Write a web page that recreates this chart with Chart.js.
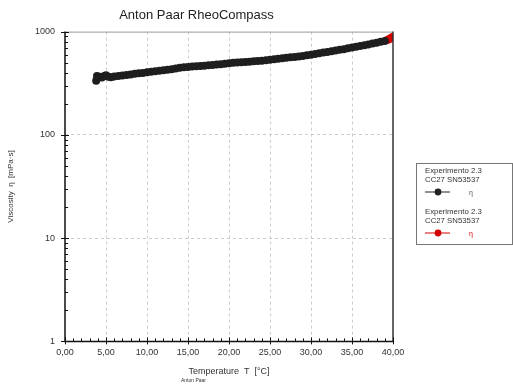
<!DOCTYPE html>
<html>
<head>
<meta charset="utf-8">
<script src="https://cdn.jsdelivr.net/npm/chart.js@4"></script>
<style>
  html, body { margin: 0; padding: 0; background: #fff; }
  #wrap { position: relative; width: 513px; height: 388px; }
</style>
</head>
<body>
<div id="wrap"><canvas id="chart" width="513" height="388"></canvas></div>
<script>
// Data
const tempBlack = [3.8, 3.9, 4.0, 4.2, 4.5, 4.8, 5.0, 5.3, 5.6, 6.0, 6.5, 7.0, 7.5, 8.0, 8.5, 9.0, 9.5,
  10.0, 10.5, 11.0, 11.5, 12.0, 12.5, 13.0, 13.5, 14.0, 14.5, 15.0, 15.5, 16.0, 16.5, 17.0, 17.5,
  18.0, 18.5, 19.0, 19.5, 20.0, 20.5, 21.0, 21.5, 22.0, 22.5, 23.0, 23.5, 24.0, 24.5, 25.0, 25.5,
  26.0, 26.5, 27.0, 27.5, 28.0, 28.5, 29.0, 29.5, 30.0, 30.5, 31.0, 31.5, 32.0, 32.5, 33.0, 33.5,
  34.0, 34.5, 35.0, 35.5, 36.0, 36.5, 37.0, 37.5, 38.0, 38.5, 39.0];
const viscBlack = [335, 372, 355, 365, 360, 372, 378, 365, 362, 368, 372, 376, 380, 385, 390, 395, 398,
  405, 408, 412, 418, 423, 427, 431, 438, 446, 451, 455, 458, 462, 465, 468, 472,
  476, 480, 484, 488, 495, 498, 501, 504, 507, 511, 515, 519, 523, 528, 533, 539,
  546, 553, 559, 564, 569, 575, 581, 589, 597, 606, 616, 626, 636, 646, 656, 666,
  676, 689, 701, 713, 725, 737, 751, 766, 781, 796, 811];
const tempRed = [39.3, 39.5, 39.7, 39.9, 40.0];
const viscRed = [830, 845, 860, 875, 890];

const xTicks = [0, 5, 10, 15, 20, 25, 30, 35, 40];
const yTicks = [1, 10, 100, 1000];
const seriesNames = ['Experimento 2.3', 'Experimento 2.3'];
const seriesDevice = 'CC27 SN53537';

const FONT = '"Liberation Sans", Arial, sans-serif';

function toPoints(xs, ys) {
  return xs.map((x, i) => ({ x: x, y: ys[i] }));
}

// frame, minor ticks and legend box
const decorations = {
  id: 'decorations',
  afterDraw(chart) {
    const ctx = chart.ctx;
    const a = chart.chartArea;
    const xs = chart.scales.x, ys = chart.scales.y;
    ctx.save();
    // top + right border
    ctx.strokeStyle = '#999';
    ctx.lineWidth = 1;
    ctx.beginPath();
    ctx.moveTo(a.left, a.top + 0.5);
    ctx.lineTo(a.right, a.top + 0.5);
    ctx.stroke();
    ctx.strokeStyle = '#333';
    ctx.lineWidth = 1.5;
    ctx.beginPath();
    ctx.moveTo(a.right, a.top);
    ctx.lineTo(a.right, a.bottom);
    ctx.stroke();

    // axis lines
    ctx.strokeStyle = '#111';
    ctx.lineWidth = 1.5;
    ctx.beginPath();
    ctx.moveTo(a.left, a.top);
    ctx.lineTo(a.left, a.bottom);
    ctx.lineTo(a.right, a.bottom);
    ctx.stroke();

    // x ticks
    ctx.lineWidth = 1;
    for (let t = 0; t <= 40; t++) {
      const px = Math.round(xs.getPixelForValue(t)) + 0.5;
      ctx.beginPath();
      if (t % 5 === 0) {
        ctx.moveTo(px, a.bottom - 4);
        ctx.lineTo(px, a.bottom + 3);
      } else {
        ctx.moveTo(px, a.bottom - 3);
        ctx.lineTo(px, a.bottom);
      }
      ctx.stroke();
    }
    // y ticks (log)
    for (let d = 1; d <= 1000; d *= 10) {
      for (let m = 1; m < 10; m++) {
        const v = d * m;
        if (v > 1000) break;
        const py = Math.round(ys.getPixelForValue(v)) + 0.5;
        ctx.beginPath();
        if (m === 1) {
          ctx.moveTo(a.left - 4, py);
          ctx.lineTo(a.left + 4, py);
        } else {
          ctx.moveTo(a.left, py);
          ctx.lineTo(a.left + 3, py);
        }
        ctx.stroke();
      }
    }

    // legend
    const lx = 416, ly = 163, lw = 96, lh = 81;
    ctx.strokeStyle = '#777';
    ctx.lineWidth = 1;
    ctx.strokeRect(lx + 0.5, ly + 0.5, lw, lh);
    const colors = ['#222', '#d40000'];
    ctx.textBaseline = 'middle';
    ctx.textAlign = 'left';
    [0, 1].forEach(i => {
      const top = ly + 8 + i * 41;
      ctx.font = '7.8px ' + FONT;
      ctx.fillStyle = '#333';
      ctx.fillText(seriesNames[i], lx + 9, top);
      ctx.fillText(seriesDevice, lx + 9, top + 9);
      const sy = top + 21;
      ctx.strokeStyle = colors[i];
      ctx.lineWidth = 1;
      ctx.beginPath();
      ctx.moveTo(lx + 9, sy);
      ctx.lineTo(lx + 34, sy);
      ctx.stroke();
      ctx.fillStyle = colors[i];
      ctx.beginPath();
      ctx.arc(lx + 22, sy, 3.4, 0, Math.PI * 2);
      ctx.fill();
      ctx.font = '7px ' + FONT;
      ctx.fillStyle = i === 0 ? '#555' : '#d40000';
      ctx.fillText('η', lx + 53, sy + 1);
    });

    // footer
    ctx.fillStyle = '#333';
    ctx.font = '5px ' + FONT;
    ctx.textAlign = 'left';
    ctx.fillText('Anton Paar', 181, 381);
    ctx.restore();
  }
};

new Chart(document.getElementById('chart'), {
  type: 'scatter',
  data: {
    datasets: [
      {
        label: seriesNames[0],
        data: toPoints(tempBlack, viscBlack),
        backgroundColor: '#1e1e1e',
        borderColor: '#1e1e1e',
        pointRadius: 4,
        pointBorderWidth: 0
      },
      {
        label: seriesNames[1],
        data: toPoints(tempRed, viscRed),
        backgroundColor: '#d40000',
        borderColor: '#d40000',
        pointRadius: 4,
        pointBorderWidth: 0
      }
    ]
  },
  options: {
    responsive: false,
    animation: false,
    layout: { padding: { top: 3, right: 120, bottom: 11, left: 0 } },
    plugins: {
      legend: { display: false },
      tooltip: { enabled: false },
      title: {
        display: true,
        text: 'Anton Paar RheoCompass',
        color: '#222',
        font: { family: FONT, size: 13, weight: 'normal' },
        padding: { top: 5, bottom: 8 }
      }
    },
    scales: {
      x: {
        type: 'linear',
        min: 0,
        max: 40,
        afterBuildTicks: s => { s.ticks = xTicks.map(v => ({ value: v })); },
        border: { display: false, dash: [3, 3] },
        grid: {
          color: ctx => (ctx.tick && ctx.tick.value > 0 && ctx.tick.value < 40) ? '#ccc' : 'rgba(0,0,0,0)',
          lineWidth: 1,
          drawTicks: false
        },
        ticks: {
          color: '#333',
          font: { family: FONT, size: 9 },
          padding: 6,
          maxRotation: 0,
          callback: v => v.toFixed(2).replace('.', ',')
        },
        title: {
          display: true,
          text: 'Temperature  T  [°C]',
          color: '#333',
          font: { family: FONT, size: 9 },
          padding: { top: 2, bottom: 0 }
        }
      },
      y: {
        type: 'logarithmic',
        min: 1,
        max: 1000,
        afterBuildTicks: s => { s.ticks = yTicks.map(v => ({ value: v })); },
        afterFit: s => { s.width = 65; },
        border: { display: false, dash: [3, 3] },
        grid: {
          color: ctx => (ctx.tick && ctx.tick.value > 1 && ctx.tick.value < 1000) ? '#ccc' : 'rgba(0,0,0,0)',
          lineWidth: 1,
          drawTicks: false
        },
        ticks: {
          color: '#333',
          font: { family: FONT, size: 9 },
          padding: 10,
          callback: v => String(v)
        },
        title: {
          display: true,
          text: 'Viscosity  η  [mPa·s]',
          color: '#333',
          font: { family: FONT, size: 8 },
          padding: { top: 6, bottom: 0 }
        }
      }
    }
  },
  plugins: [decorations]
});
</script>
</body>
</html>
